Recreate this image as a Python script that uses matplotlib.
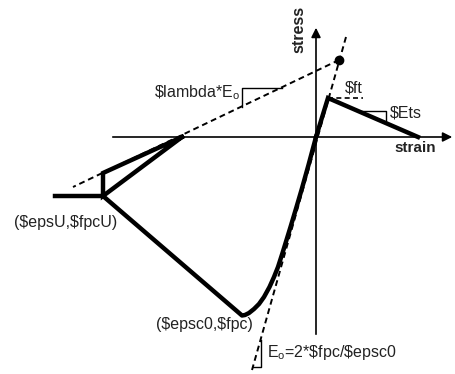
import matplotlib
matplotlib.use('Agg')
import matplotlib.pyplot as plt

plt.rcParams['font.family'] = ['Liberation Sans', 'DejaVu Sans']
plt.rcParams['mathtext.fontset'] = 'custom'
plt.rcParams['mathtext.rm'] = 'Liberation Sans'

# Concrete02 envelope (strain, stress in sketch units)
comp_strain = [0, -7.5, -14.5, -19.5, -25.5, -29.5, -33.5, -38, -42, -46.5, -52, -57,
               -62, -67, -71, -74, -213, -261]
comp_stress = [0, -28, -53, -70, -90, -103, -116, -130, -140, -150, -160, -167,
               -172, -176, -178, -178.5, -59, -59]

tens_strain = [0, 12, 102]
tens_stress = [0, 39, 0]

# unloading / reloading branches from ($epsU,$fpcU)
unload_strain = [-134, -213, -213, -134]
unload_stress = [0, -59, -36, 0]

# initial tangent Eo and reloading slope lambda*Eo (dashed)
eo_strain = [30, -64]
eo_stress = [100, -233]
lam_strain = [23, -243]
lam_stress = [77, -50]
dot = (23, 77)

fig = plt.figure(figsize=(4.55, 3.74), dpi=100)
ax = fig.add_axes([0, 0, 1, 1])
ax.set_xlim(-316, 139)
ax.set_ylim(-237, 137)
ax.axis('off')

txt = '#222222'
fs = 11.5

# axes with arrows
ax.annotate('', xy=(139, 0), xytext=(-206, 0),
            arrowprops=dict(arrowstyle='-|>', lw=1.2, color='k', mutation_scale=14))
ax.annotate('', xy=(0, 112), xytext=(0, -200),
            arrowprops=dict(arrowstyle='-|>', lw=1.2, color='k', mutation_scale=14))

# dashed reference lines
ax.plot(eo_strain, eo_stress, color='k', lw=1.4, dashes=(3, 2))
ax.plot(lam_strain, lam_stress, color='k', lw=1.4, dashes=(3, 2))
ax.plot(*dot, 'o', color='k', ms=6)

# material response
ax.plot(comp_strain, comp_stress, color='k', lw=3.2, solid_joinstyle='round')
ax.plot(tens_strain, tens_stress, color='k', lw=3.2, solid_joinstyle='miter')
ax.plot(unload_strain, unload_stress, color='k', lw=3.2, solid_joinstyle='miter')

# $ft marker and slope triangles
ax.plot([12, 47], [39, 39], color='k', lw=1.2, dashes=(3, 2))
ax.plot([44, 70, 70], [26, 26, 16], color='k', lw=1)
ax.plot([-74, -74, -34], [30, 49, 49], color='k', lw=1)
ax.plot([-55, -55, -63], [-203, -230, -230], color='k', lw=1)

# labels
ax.text(-17, 108, 'stress', rotation=90, fontsize=11.5, fontweight='bold',
        ha='center', va='center', color=txt)
ax.text(99, -11, 'strain', fontsize=11, fontweight='bold',
        ha='center', va='center', color=txt)
ax.text(38, 49, r'\$ft', fontsize=fs, ha='center', va='center', color=txt)
ax.text(74, 24, r'\$Ets', fontsize=fs, ha='left', va='center', color=txt)
ax.text(-76, 44, r'\$lambda*E$_\mathrm{o}$', fontsize=fs, ha='right',
        va='center', color=txt)
ax.text(-302, -85, r'(\$epsU,\$fpcU)', fontsize=fs, ha='left', va='center', color=txt)
ax.text(-112, -188, r'(\$epsc0,\$fpc)', fontsize=fs, ha='center', va='center', color=txt)
ax.text(-49, -216, r'E$_\mathrm{o}$=2*\$fpc/\$epsc0', fontsize=fs, ha='left',
        va='center', color=txt)

fig.savefig('out.png', dpi=100)
